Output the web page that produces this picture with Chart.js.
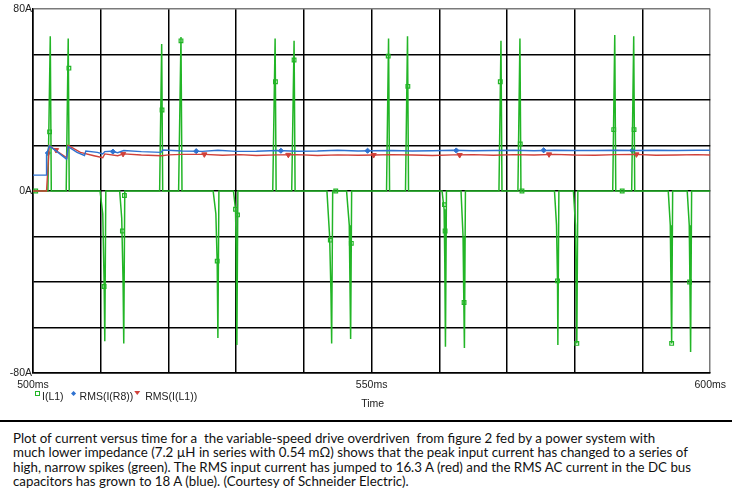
<!DOCTYPE html>
<html>
<head>
<meta charset="utf-8">
<script src="https://cdn.jsdelivr.net/npm/chart.js@4/dist/chart.umd.min.js"></script>
<style>
  html, body { margin: 0; padding: 0; background: #fff; }
  #wrap { position: relative; width: 732px; height: 420px; }
  #caption {
    position: absolute; left: 0; top: 420px; width: 732px; height: 81px;
    border-top: 2px solid #000; box-sizing: border-box;
    font-family: Lato, "Liberation Sans", sans-serif; font-size: 13.3px; line-height: 14.3px;
    color: #111; padding: 9px 0 0 13px; white-space: nowrap;
  }
</style>
</head>
<body>
<div id="wrap"><canvas id="c" width="732" height="420"></canvas></div>
<div id="caption">Plot of current versus time for a &nbsp;the variable-speed drive overdriven &nbsp;from figure 2 fed by a power system with<br>much lower impedance (7.2 µH in series with 0.54 mΩ) shows that the peak input current has changed to a series of<br>high, narrow spikes (green). The RMS input current has jumped to 16.3 A (red) and the RMS AC current in the DC bus<br>capacitors has grown to 18 A (blue). (Courtesy of Schneider Electric).</div>
<script>
// ---- Tick labels ----
const xTickLabels = { 500: '500ms', 550: '550ms', 600: '600ms' };
const yTickLabels = { 80: '80A', 0: '0A', '-80': '-80A' };
const xTitle = 'Time';
const seriesNames = ['I(L1)', 'RMS(I(R8))', 'RMS(I(L1))'];

// ---- I(L1) (green), time in ms, current in A ----
const greenT = [500, 502.2, 502.55, 502.7, 504.9, 505.2, 505.35,
  509.9, 510.3, 510.5, 510.6, 510.75,
  512.8, 513.1, 513.3, 513.4, 513.55,
  518.7, 519.0, 519.15, 521.5, 521.85, 522.0,
  526.6, 527.0, 527.2, 527.3, 527.45,
  529.6, 529.9, 530.0, 530.1, 530.25,
  535.4, 535.75, 535.9, 538.2, 538.55, 538.7,
  543.4, 543.8, 544.0, 544.1, 544.25,
  546.3, 546.7, 546.8, 546.9, 547.05,
  552.2, 552.5, 552.65, 555.0, 555.3, 555.45,
  560.4, 560.7, 560.8, 560.9, 561.05,
  563.2, 563.5, 563.6, 563.7, 563.85,
  568.8, 569.1, 569.25, 571.6, 571.9, 572.05,
  577.0, 577.3, 577.45, 577.5, 577.65,
  579.8, 580.1, 580.2, 580.3, 580.45,
  585.6, 585.9, 586.05, 588.4, 588.7, 588.85,
  593.8, 594.1, 594.2, 594.3, 594.45,
  596.6, 596.9, 597.0, 597.1, 597.25,
  600];
const greenI = [0, 0, 68, 0, 0, 67, 0,
  0, -10, -40, -66, 0,
  0, -12, -40, -67, 0,
  0, 64.6, 0, 0, 67.7, 0,
  0, -10, -32, -64.6, 0,
  0, -8, -25, -67.7, 0,
  0, 67, 0, 0, 66, 0,
  0, -20, -45, -67, 0,
  0, -15, -40, -65, 0,
  0, 67, 0, 0, 68, 0,
  0, -8, -30, -68.5, 0,
  0, -20, -45, -69, 0,
  0, 66, 0, 0, 67, 0,
  0, -15, -40, -67.7, 0,
  0, -15, -40, -67, 0,
  0, 68.6, 0, 0, 68, 0,
  0, -15, -40, -67, 0,
  0, -15, -40, -70.8, 0,
  0];
const greenMarkT = [500.4, 502.45, 505.3, 510.5, 513.2, 513.5, 519.05, 521.85, 527.2, 529.9, 530.2,
  535.8, 538.55, 543.9, 544.7, 547.0, 552.45, 555.35, 560.75, 560.85, 563.65,
  569.0, 571.95, 572.2, 577.45, 580.3, 585.75, 587.0, 588.75, 594.3, 596.95];
const greenMarkI = [0, 26, 54, -42, -17.6, -2, 35.6, 66, -30.8, -8, -10.5,
  48, 57.6, -21.6, 0, -23, 59.3, 46, -6, -17.6, -49,
  48, 20.7, 0, -39.5, -67, 27, 0, 27, -67, -40];

// ---- RMS(I(R8)) (blue) ----
const blueT = [500, 501.95, 502.0, 502.4, 503.5, 504.95, 505.2, 506.5, 507.6, 507.8, 509.5, 510.3, 510.6,
  511.5, 512.5, 513.4, 516, 518.9, 519.2, 522, 525, 527.3, 530, 533, 536, 539, 542, 545, 548, 550,
  553, 556, 559, 562, 565, 568, 571, 574, 577, 580, 583, 586, 589, 592, 595, 598, 600];
const blueI = [7, 7, 16, 19.8, 17.4, 14.0, 19.5, 17, 15.6, 17.6, 17.0, 16.3, 17.3,
  17.5, 16.8, 17.8, 17.3, 17.0, 18.0, 17.6, 17.4, 17.9, 17.4, 17.5, 17.8, 17.5, 17.6, 17.9, 17.6, 17.7,
  17.8, 17.6, 17.7, 17.9, 17.7, 17.8, 17.9, 17.7, 17.9, 17.8, 17.8, 17.9, 17.8, 17.9, 17.8, 17.9, 17.9];
const blueMarkT = [502.2, 511.8, 524.1, 536.6, 549.4, 562.5, 575.4, 588.5];
const blueMarkI = [16.7, 17.3, 17.5, 17.7, 17.7, 17.8, 17.9, 17.8];

// ---- RMS(I(L1)) (red) ----
const redT = [500, 502.0, 502.4, 503.5, 505.0, 505.2, 507, 509, 510.3, 510.6, 512.5, 513.4, 516, 519, 520,
  522, 525.3, 528, 530.5, 533, 536, 539, 542, 545, 548, 550.3, 553, 556, 559, 562, 565, 568, 571,
  574, 577, 580, 583, 586, 589, 592, 595, 598, 600];
const redI = [0, 0, 20, 17.6, 14.6, 20, 17, 15.5, 14.6, 16.3, 15.5, 16.3, 15.8, 15.5, 15.9,
  16.1, 16.1, 15.7, 16.0, 15.6, 15.9, 16.0, 15.6, 15.9, 15.7, 15.8, 16.0, 15.8, 15.6, 15.9, 16.0, 15.7, 16.0,
  15.8, 16.1, 15.8, 15.7, 16.0, 16.1, 15.7, 15.8, 16.0, 15.8];
const redMarkT = [503.4, 513.3, 525.3, 537.7, 550.3, 563.0, 576.2, 589.1];
const redMarkI = [18, 16.3, 16.1, 15.9, 15.8, 15.8, 16.1, 16.1];

const pts = (t, v) => t.map((x, i) => ({ x: x, y: v[i] }));

const GREEN = '#22b526', BLUE = '#2f72d0', RED = '#d0413a';
const FONT = '"Liberation Sans", Arial, sans-serif';

const overlay = {
  id: 'overlay',
  afterDraw(chart) {
    const ctx = chart.ctx;
    const xs = chart.scales.x;
    ctx.save();
    ctx.fillStyle = '#222';
    ctx.font = '10.5px ' + FONT;
    ctx.textBaseline = 'middle';
    ctx.textAlign = 'center';
    ctx.fillText(xTitle, xs.getPixelForValue(550) + 1, 404);
    // legend
    ctx.textAlign = 'left';
    const y = 396;
    let x = 42;
    ctx.lineWidth = 1;
    ctx.strokeStyle = GREEN;
    ctx.strokeRect(35.5, y - 4.5, 4, 4);
    ctx.fillText(seriesNames[0], x, y + 1);
    x += ctx.measureText(seriesNames[0]).width + 10;
    ctx.fillStyle = BLUE;
    ctx.beginPath(); ctx.moveTo(x, y - 5); ctx.lineTo(x + 2.5, y - 2.5); ctx.lineTo(x, y); ctx.lineTo(x - 2.5, y - 2.5); ctx.closePath(); ctx.fill();
    x += 6;
    ctx.fillStyle = '#222';
    ctx.fillText(seriesNames[1], x, y + 1);
    x += ctx.measureText(seriesNames[1]).width + 4;
    ctx.fillStyle = RED;
    ctx.beginPath(); ctx.moveTo(x - 3, y - 5); ctx.lineTo(x + 3, y - 5); ctx.lineTo(x, y - 1); ctx.closePath(); ctx.fill();
    x += 8;
    ctx.fillStyle = '#222';
    ctx.fillText(seriesNames[2], x, y + 1);
    ctx.restore();
  }
};

new Chart(document.getElementById('c'), {
  type: 'line',
  data: {
    datasets: [
      { label: seriesNames[1], data: pts(blueT, blueI), borderColor: BLUE, borderWidth: 1.4, pointRadius: 0, tension: 0 },
      { label: seriesNames[2], data: pts(redT, redI), borderColor: RED, borderWidth: 1.4, pointRadius: 0, tension: 0 },
      { label: seriesNames[0], data: pts(greenT, greenI), borderColor: GREEN, borderWidth: 1.5, pointRadius: 0, tension: 0 },
      { label: 'gm', data: pts(greenMarkT, greenMarkI), showLine: false, pointStyle: 'rect', pointRadius: 2.6,
        borderColor: GREEN, backgroundColor: 'rgba(255,255,255,0)', pointBorderWidth: 1.2 },
      { label: 'bm', data: pts(blueMarkT, blueMarkI), showLine: false, pointStyle: 'rectRot', pointRadius: 2.6,
        borderColor: BLUE, backgroundColor: BLUE, pointBorderWidth: 1 },
      { label: 'rm', data: pts(redMarkT, redMarkI), showLine: false, pointStyle: 'triangle', rotation: 180, pointRadius: 3,
        borderColor: RED, backgroundColor: RED, pointBorderWidth: 1 }
    ]
  },
  options: {
    animation: false,
    responsive: false,
    events: [],
    layout: { padding: { left: 0, right: 18, top: 9, bottom: 0 } },
    plugins: { legend: { display: false }, tooltip: { enabled: false } },
    scales: {
      x: {
        type: 'linear', min: 500, max: 600,
        afterFit(s) { s.height = 47; },
        ticks: {
          stepSize: 10, autoSkip: false, maxRotation: 0, padding: 6,
          color: '#222', font: { family: FONT, size: 10.5 },
          callback: (v) => xTickLabels[v] || ''
        },
        grid: {
          drawTicks: false,
          color: (c) => (c.tick && c.tick.value === 600) ? '#7a7a7a' : '#000',
          lineWidth: 1.5
        },
        border: { display: true, color: '#000', width: 1.5 }
      },
      y: {
        type: 'linear', min: -80, max: 80,
        afterFit(s) { s.width = 33; },
        ticks: {
          stepSize: 20, autoSkip: false, padding: 1,
          color: '#222', font: { family: FONT, size: 10.5 },
          callback: (v) => yTickLabels[v] || ''
        },
        grid: {
          drawTicks: false,
          color: (c) => (c.tick && c.tick.value === 80) ? '#7a7a7a' : '#000',
          lineWidth: 1.5
        },
        border: { display: true, color: '#000', width: 1.5 }
      }
    }
  },
  plugins: [overlay]
});
</script>
</body>
</html>
